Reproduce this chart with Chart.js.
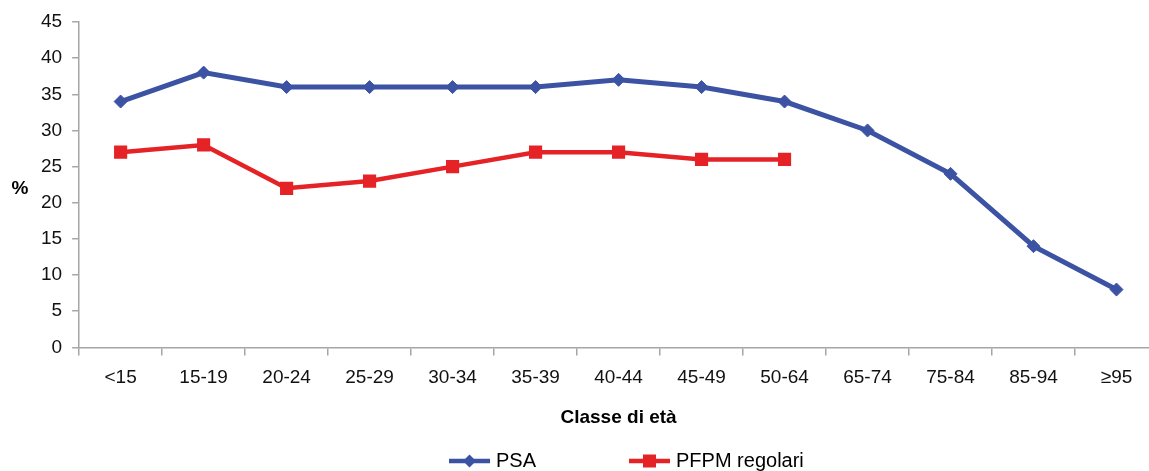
<!DOCTYPE html>
<html>
<head>
<meta charset="utf-8">
<script src="https://cdn.jsdelivr.net/npm/chart.js@4/dist/chart.umd.min.js"></script>
<style>
  html, body { margin: 0; padding: 0; background: #ffffff; overflow: hidden; }
  #wrap { position: absolute; left: 0; top: 0; width: 1254px; height: 471px; }
</style>
</head>
<body>
<div id="wrap"><canvas id="c" width="1254" height="471"></canvas></div>
<script>
// Age classes on the x axis
const categories = ['<15', '15-19', '20-24', '25-29', '30-34', '35-39', '40-44', '45-49', '50-64', '65-74', '75-84', '85-94', '\u226595'];

// Percentage per age class
const psaValues  = [34, 38, 36, 36, 36, 36, 37, 36, 34, 30, 24, 14, 8];
const pfpmValues = [27, 28, 22, 23, 25, 27, 27, 26, 26, null, null, null, null];

// Y axis range and step
const yMin = 0;
const yMax = 45;
const yStep = 5;

const seriesNames = ['PSA', 'PFPM regolari'];
const xTitle = 'Classe di et\u00e0';
const yTitle = '%';

const BLUE = '#3C53A4';
const RED = '#E52226';
const AXIS = '#A6A6A6';
const FONT = "'Liberation Sans', Arial, sans-serif";

// Horizontal "%" label and the bottom legend (line sample with marker)
const extras = {
  id: 'extras',
  afterDraw(chart) {
    const ctx = chart.ctx;
    ctx.save();
    ctx.fillStyle = '#000';
    ctx.font = 'bold 19px ' + FONT;
    ctx.textAlign = 'center';
    ctx.textBaseline = 'middle';
    ctx.fillText(yTitle, 20, 189);

    const ly = 461;
    const items = [
      { x: 449, color: BLUE, marker: 'diamond', label: seriesNames[0] },
      { x: 629, color: RED, marker: 'square', label: seriesNames[1] }
    ];
    items.forEach(it => {
      ctx.strokeStyle = it.color;
      ctx.lineWidth = 4.5;
      ctx.beginPath();
      ctx.moveTo(it.x, ly);
      ctx.lineTo(it.x + 41, ly);
      ctx.stroke();
      ctx.fillStyle = it.color;
      const cx = it.x + 20.5;
      ctx.beginPath();
      if (it.marker === 'diamond') {
        ctx.moveTo(cx - 6.5, ly);
        ctx.lineTo(cx, ly - 6.5);
        ctx.lineTo(cx + 6.5, ly);
        ctx.lineTo(cx, ly + 6.5);
        ctx.closePath();
      } else {
        ctx.rect(cx - 6.5, ly - 6.5, 13, 13);
      }
      ctx.fill();
      ctx.fillStyle = '#000';
      ctx.font = '20px ' + FONT;
      ctx.textAlign = 'left';
      ctx.fillText(it.label, it.x + 47, ly);
    });
    ctx.restore();
  }
};

new Chart(document.getElementById('c'), {
  type: 'line',
  data: {
    labels: categories,
    datasets: [
      {
        label: seriesNames[0],
        data: psaValues,
        borderColor: BLUE,
        backgroundColor: BLUE,
        borderWidth: 5,
        pointStyle: 'rectRot',
        pointRadius: 6.5,
        pointBorderWidth: 1,
        pointBackgroundColor: BLUE,
        pointBorderColor: BLUE,
        tension: 0,
        fill: false
      },
      {
        label: seriesNames[1],
        data: pfpmValues,
        borderColor: RED,
        backgroundColor: RED,
        borderWidth: 4.5,
        pointStyle: 'rect',
        pointRadius: 9.3,
        pointBorderWidth: 0,
        pointBackgroundColor: RED,
        pointBorderColor: RED,
        tension: 0,
        fill: false,
        spanGaps: false
      }
    ]
  },
  options: {
    responsive: false,
    animation: false,
    devicePixelRatio: 1,
    layout: { padding: { left: 31, right: 96, top: 22, bottom: 42 } },
    plugins: {
      legend: { display: false },
      tooltip: { enabled: false },
      title: { display: false }
    },
    scales: {
      x: {
        type: 'category',
        offset: true,
        grid: {
          offset: true,
          drawOnChartArea: false,
          drawTicks: true,
          tickLength: 8,
          color: AXIS,
          lineWidth: 1.5
        },
        border: { display: true, color: AXIS, width: 1.5 },
        ticks: {
          color: '#111',
          font: { family: FONT, size: 19 },
          padding: 11,
          maxRotation: 0,
          autoSkip: false
        },
        title: {
          display: true,
          text: xTitle,
          color: '#000',
          font: { family: FONT, size: 19, weight: 'bold' },
          padding: { top: 6, bottom: 0 }
        }
      },
      y: {
        min: yMin,
        max: yMax,
        grid: {
          drawOnChartArea: false,
          drawTicks: true,
          tickLength: 7,
          color: AXIS,
          lineWidth: 1.5
        },
        border: { display: true, color: AXIS, width: 1.5 },
        ticks: {
          stepSize: yStep,
          color: '#111',
          font: { family: FONT, size: 19 },
          padding: 10
        }
      }
    }
  },
  plugins: [extras]
});
</script>
</body>
</html>
